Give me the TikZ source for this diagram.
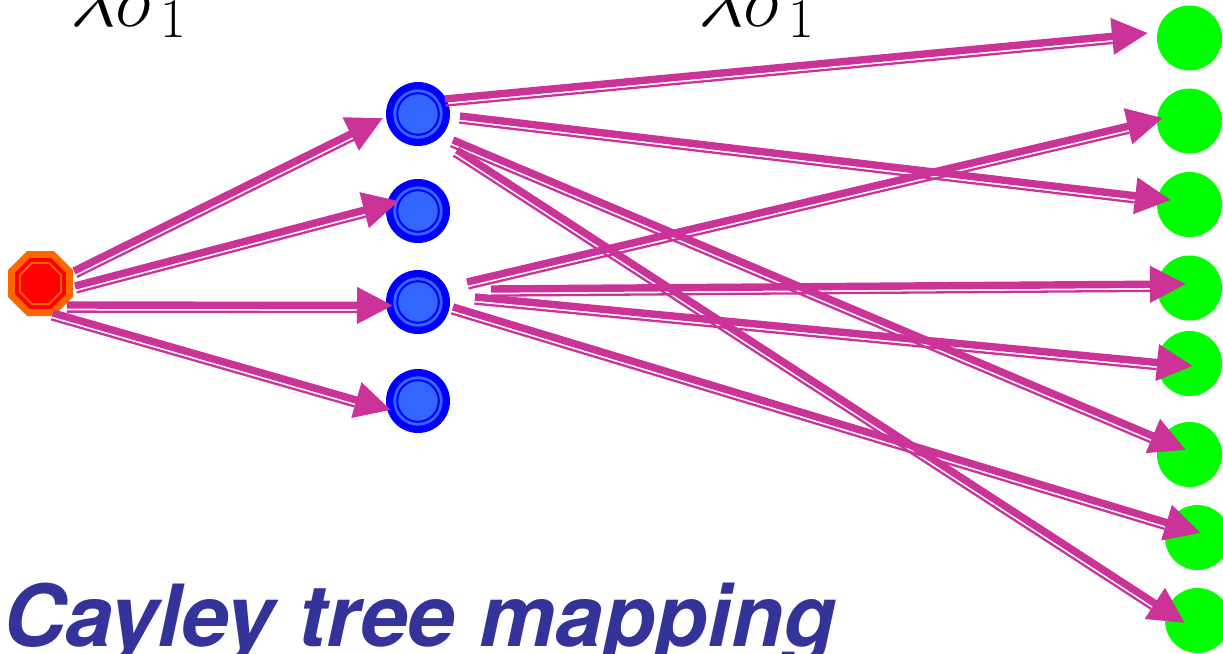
\RequirePackage{fix-cm}
\documentclass[tikz,border=0pt]{standalone}
\usepackage{fontspec}
\newfontfamily\titlefont{TeX Gyre Heros}
\usetikzlibrary{arrows.meta,calc,shapes.geometric}
\definecolor{arrmag}{HTML}{CC3399}
\definecolor{octorange}{HTML}{FF6600}
\definecolor{octred}{HTML}{FF0000}
\definecolor{bluedark}{HTML}{0000FF}
\definecolor{bluelight}{HTML}{3366FF}
\definecolor{greenfill}{HTML}{00FF00}
\definecolor{titleblue}{HTML}{333399}
\newcommand\thinoff{6.6pt}
\newcommand\magarrow[2]{%
  \draw[thinarr] ($(#1)!\thinoff!-90:(#2)$) -- ($($(#2)!36pt!(#1)$)!\thinoff!90:(#1)$);
  \draw[thickarr] (#1) -- (#2);}
\tikzset{
  thickarr/.style={draw=arrmag, line width=7.4pt, -{Triangle[length=36pt,width=35pt]}},
  thinarr/.style={draw=arrmag, line width=2.3pt},
  redoct/.style={regular polygon, regular polygon sides=8, fill=octorange, minimum size=70.35pt, inner sep=0pt, outer sep=0pt},
  redmid/.style={regular polygon, regular polygon sides=8, fill=octred, minimum size=55.2pt, inner sep=0pt, outer sep=0pt},
  redcore/.style={regular polygon, regular polygon sides=8, fill=octred, draw=octorange, line width=2pt, minimum size=44.4pt, inner sep=0pt, outer sep=0pt},
  bluedisk/.style={circle, fill=bluedark, minimum size=64pt, inner sep=0pt, outer sep=0pt,
    path picture={\fill[bluelight] (path picture bounding box.center) circle (24.7pt);
      \draw[bluedark, line width=2pt, fill=bluelight] (path picture bounding box.center) circle (20.8pt);}},
  greendisk/.style={circle, fill=greenfill, minimum size=65pt, inner sep=0pt, outer sep=0pt},
  toplabel/.style={anchor=base west, inner sep=0pt, font=\fontsize{80}{82}\selectfont},
  titletext/.style={anchor=base west, inner sep=0pt, text=titleblue, font=\titlefont\bfseries\itshape\fontsize{85.7}{90}\selectfont}
}
\begin{document}
\begin{tikzpicture}[x=1pt,y=-1pt]
\useasboundingbox (0,0) rectangle (1223,653);
% labels
\node[toplabel] (lab1) at (70,26) {$\lambda\sigma_1$};
\node[toplabel] (lab2) at (698,26) {$\lambda\sigma_1$};
% red root
\node[redoct] (r) at (40.5,283.5) {};
\node[redmid] (rm) at (r.center) {};
\node[redcore] (rc) at (r.center) {};
% blue
\node[bluedisk] (b1) at (418,114) {};
\node[bluedisk] (b2) at (418,211) {};
\node[bluedisk] (b3) at (418,302) {};
\node[bluedisk] (b4) at (418,401) {};
% green
\node[greendisk] (g1) at (1189.5,38) {};
\node[greendisk] (g2) at (1189.5,121) {};
\node[greendisk] (g3) at (1189.5,204.5) {};
\node[greendisk] (g4) at (1189.5,288) {};
\node[greendisk] (g5) at (1189.5,363.5) {};
\node[greendisk] (g6) at (1189.5,454.5) {};
\node[greendisk] (g7) at (1197.5,537.5) {};
\node[greendisk] (g8) at (1197.5,620.5) {};
% arrow ends
\coordinate (s-r-b1) at (74,271);  \coordinate (t-r-b1) at (383,118);
\coordinate (s-r-b2) at (75,286);  \coordinate (t-r-b2) at (399,201);
\coordinate (s-r-b3) at (67,305);  \coordinate (t-r-b3) at (393,305.5);
\coordinate (s-r-b4) at (53,313);  \coordinate (t-r-b4) at (391,410);
\coordinate (s-b1-g1) at (445,99);  \coordinate (t-b1-g1) at (1148,33);
\coordinate (s-b1-g3) at (460,116); \coordinate (t-b1-g3) at (1171,200);
\coordinate (s-b1-g6) at (453,140); \coordinate (t-b1-g6) at (1186,450);
\coordinate (s-b1-g8) at (457,150); \coordinate (t-b1-g8) at (1185,623);
\coordinate (s-b3-g2) at (467,282); \coordinate (t-b3-g2) at (1163,118);
\coordinate (s-b3-g4) at (491,289); \coordinate (t-b3-g4) at (1186,284);
\coordinate (s-b3-g5) at (475,297); \coordinate (t-b3-g5) at (1193,366);
\coordinate (s-b3-g7) at (453,307); \coordinate (t-b3-g7) at (1201,533);
% arrows
\magarrow{s-r-b1}{t-r-b1}
\magarrow{s-r-b2}{t-r-b2}
\magarrow{s-r-b3}{t-r-b3}
\magarrow{s-r-b4}{t-r-b4}
\magarrow{s-b1-g1}{t-b1-g1}
\magarrow{s-b1-g3}{t-b1-g3}
\magarrow{s-b1-g6}{t-b1-g6}
\magarrow{s-b1-g8}{t-b1-g8}
\magarrow{s-b3-g2}{t-b3-g2}
\magarrow{s-b3-g4}{t-b3-g4}
\magarrow{s-b3-g5}{t-b3-g5}
\magarrow{s-b3-g7}{t-b3-g7}
% title
\node[titletext] (title) at (3,646) {Cayley tree mapping};
\end{tikzpicture}
\end{document}
